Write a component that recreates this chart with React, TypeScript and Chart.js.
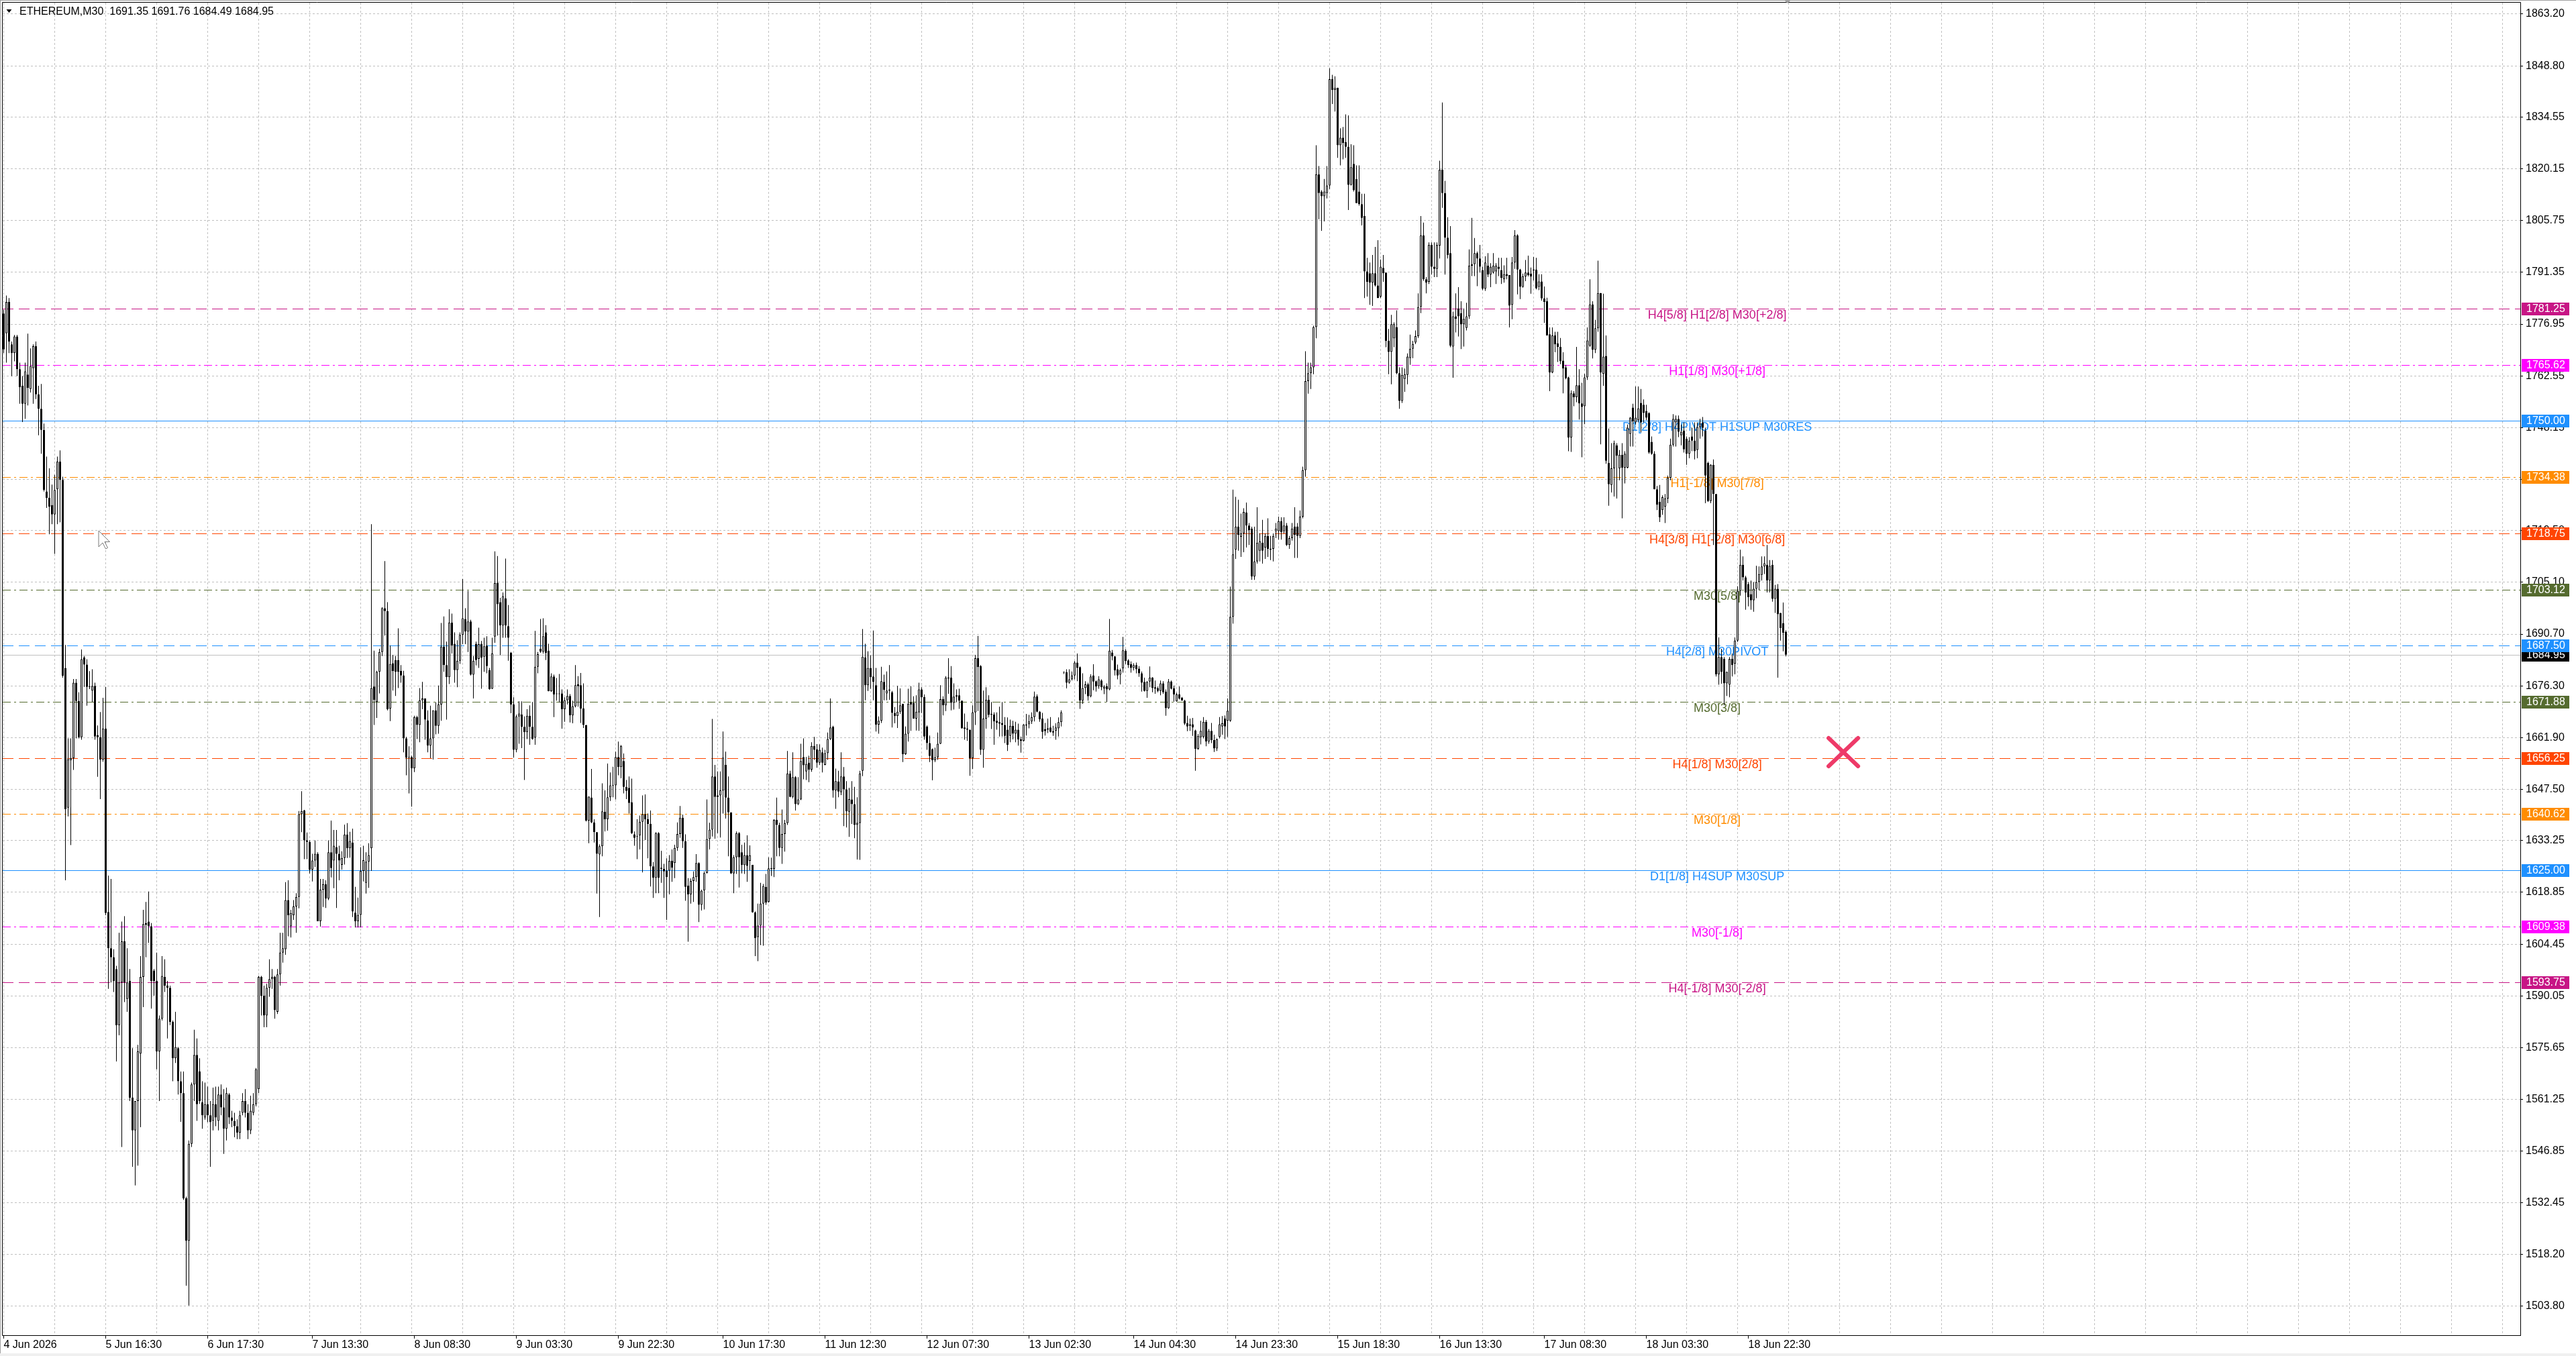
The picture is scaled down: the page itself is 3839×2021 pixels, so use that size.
import React, { useEffect, useRef } from "react";
import { Chart, registerables } from "chart.js";

Chart.register(...registerables);

const FONT = "'Liberation Sans', Arial, sans-serif";

const symbolTitle = "ETHEREUM,M30";
const headerQuote = [1691.35, 1691.76, 1684.49, 1684.95];

// M30 candles, oldest first
const opens = [
  1779.9,1774.4,1783.1,1771.3,1768.9,1773.5,1764.4,1759.8,1754.8,1762.9,
  1758.9,1764.7,1770.8,1757.4,1753.4,1747.5,1730.4,1728.6,1726.6,1724.0,
  1731.0,1738.7,1733.6,1681.3,1642.4,1655.6,1656.2,1677.2,1672.1,1662.0,
  1684.2,1682.2,1676.0,1675.0,1676.3,1662.6,1662.0,1655.8,1664.4,1613.4,
  1603.3,1600.8,1597.5,1581.9,1593.8,1605.2,1589.2,1594.2,1561.7,1552.6,
  1560.8,1574.0,1595.3,1610.3,1610.7,1609.4,1597.1,1594.2,1574.6,1583.7,
  1595.3,1592.9,1592.3,1582.8,1572.7,1575.5,1566.3,1563.0,1533.7,1521.9,
  1548.9,1565.4,1573.6,1569.0,1560.4,1556.2,1559.9,1556.8,1555.3,1559.9,
  1555.3,1562.6,1559.0,1553.1,1562.6,1556.2,1555.3,1553.8,1552.0,1557.5,
  1560.8,1557.5,1552.6,1557.5,1559.9,1564.1,1595.3,1590.1,1584.6,1592.3,
  1594.7,1595.3,1585.6,1596.0,1602.1,1603.0,1616.7,1609.4,1612.5,1614.9,
  1617.6,1640.6,1641.6,1633.3,1632.9,1625.2,1627.7,1629.6,1610.8,1619.6,
  1621.1,1617.1,1630.0,1627.7,1631.4,1629.6,1626.5,1628.4,1634.9,1631.1,
  1632.7,1613.2,1610.8,1612.6,1624.8,1621.5,1627.4,1631.1,1676.1,1671.8,
  1680.2,1685.7,1697.9,1697.1,1670.0,1682.6,1683.5,1683.5,1680.5,1679.2,
  1661.7,1656.5,1656.5,1653.4,1667.6,1665.4,1672.3,1672.8,1666.7,1659.7,
  1661.7,1669.5,1665.2,1671.1,1687.2,1682.1,1678.7,1693.9,1688.0,1680.7,
  1683.3,1690.5,1694.9,1691.4,1694.2,1679.4,1688.0,1683.8,1688.0,1684.4,
  1687.5,1680.7,1675.5,1690.0,1705.0,1699.6,1693.1,1700.6,1692.9,1685.5,
  1671.1,1658.5,1667.8,1668.3,1664.9,1663.4,1668.0,1664.9,1661.9,1681.6,
  1686.6,1685.8,1691.2,1686.1,1674.8,1678.9,1674.0,1674.0,1674.2,1669.8,
  1672.3,1673.5,1668.1,1670.6,1676.7,1676.5,1670.0,1665.4,1638.8,1645.2,
  1638.3,1635.6,1629.4,1631.7,1641.3,1639.2,1645.3,1648.5,1648.6,1656.5,
  1653.7,1655.4,1648.2,1647.9,1643.9,1635.0,1634.3,1634.7,1638.5,1640.6,
  1639.2,1637.9,1626.1,1622.9,1635.3,1625.7,1625.4,1624.9,1624.9,1627.6,
  1627.0,1631.2,1635.1,1639.6,1633.1,1620.7,1618.3,1622.0,1623.1,1627.0,
  1615.4,1619.4,1624.2,1633.7,1636.3,1651.1,1645.8,1645.8,1647.2,1654.3,
  1645.2,1641.1,1624.1,1628.6,1635.3,1630.0,1626.4,1629.2,1627.6,1626.5,
  1613.3,1606.4,1609.6,1615.7,1620.4,1616.2,1625.4,1625.4,1639.0,1637.6,
  1631.2,1635.1,1638.1,1651.9,1645.4,1650.9,1643.4,1644.7,1656.5,1652.5,
  1654.9,1653.0,1659.6,1658.6,1654.9,1657.8,1654.3,1657.6,1661.5,1664.9,
  1647.2,1649.7,1646.7,1651.1,1647.5,1641.3,1644.7,1643.4,1637.6,1638.1,
  1652.7,1684.2,1676.5,1681.3,1678.9,1676.5,1665.5,1666.6,1677.4,1674.2,
  1675.0,1674.5,1668.8,1667.9,1669.1,1671.3,1657.3,1663.0,1671.7,1671.6,
  1667.2,1668.9,1675.3,1673.2,1665.0,1660.4,1658.7,1655.6,1656.4,1660.2,
  1672.6,1670.9,1678.6,1678.6,1671.6,1673.3,1673.7,1672.2,1664.7,1664.4,
  1664.1,1656.2,1668.9,1684.0,1681.8,1658.5,1667.2,1672.4,1668.5,1668.3,
  1666.6,1666.2,1666.0,1665.4,1664.1,1662.4,1665.2,1663.0,1664.1,1661.4,
  1661.0,1665.5,1665.6,1666.4,1667.6,1673.4,1669.1,1667.2,1664.3,1664.1,
  1664.7,1663.7,1663.8,1664.5,1666.2,1680.0,1680.1,1677.2,1678.1,1679.2,
  1682.8,1681.5,1672.2,1675.7,1676.7,1673.4,1679.2,1677.6,1676.2,1677.8,
  1675.6,1676.2,1675.3,1685.6,1684.5,1680.9,1679.4,1681.2,1686.1,1683.4,
  1682.3,1681.3,1682.1,1681.1,1679.8,1677.4,1674.9,1677.5,1678.6,1675.9,
  1675.7,1674.9,1677.0,1674.7,1670.1,1677.5,1675.6,1672.0,1673.9,1673.0,
  1672.2,1666.0,1665.6,1665.6,1663.9,1658.8,1662.0,1662.1,1666.3,1660.8,
  1663.8,1661.2,1658.9,1662.1,1665.0,1667.2,1666.6,1666.6,1695.5,1714.2,
  1720.6,1717.8,1718.7,1724.5,1720.9,1720.0,1706.7,1710.9,1713.9,1716.1,
  1714.8,1718.0,1714.2,1714.4,1719.3,1719.3,1722.1,1719.3,1720.9,1715.5,
  1717.4,1720.6,1720.6,1718.0,1723.4,1736.3,1761.1,1763.3,1764.9,1776.1,
  1818.6,1813.8,1812.5,1813.4,1815.5,1845.1,1842.1,1842.7,1826.7,1828.8,
  1827.6,1826.3,1815.7,1821.5,1817.3,1813.8,1810.3,1807.0,1791.6,1791.1,
  1788.5,1791.1,1787.7,1784.6,1792.6,1791.3,1772.3,1769.2,1773.0,1776.1,
  1763.3,1755.6,1761.7,1762.8,1767.5,1770.1,1771.8,1773.6,1781.7,1801.6,
  1789.4,1788.7,1799.0,1792.9,1792.3,1798.8,1819.9,1813.4,1801.0,1796.7,
  1770.7,1779.1,1781.3,1780.0,1776.9,1775.9,1779.1,1793.2,1793.6,1796.7,
  1795.2,1792.0,1786.8,1793.2,1790.7,1791.3,1791.6,1792.9,1792.0,1789.4,
  1790.8,1790.6,1782.3,1794.1,1801.6,1792.1,1787.3,1790.2,1791.3,1791.0,
  1792.1,1792.1,1787.3,1788.8,1784.1,1783.3,1774.1,1763.5,1773.8,1771.6,
  1770.6,1766.8,1764.9,1762.1,1745.4,1757.7,1756.6,1759.9,1754.9,1754.1,
  1762.1,1771.0,1782.4,1769.8,1775.8,1785.6,1763.1,1768.1,1738.3,1732.2,
  1736.8,1743.2,1736.8,1740.6,1737.0,1737.0,1746.4,1753.7,1749.6,1750.2,
  1755.0,1754.5,1752.8,1752.2,1744.2,1740.9,1731.0,1727.5,1725.2,1726.2,
  1728.4,1734.2,1743.4,1749.6,1750.6,1746.0,1747.3,1745.1,1740.9,1745.7,
  1744.5,1741.9,1748.3,1749.6,1747.3,1738.3,1727.7,1737.8,1729.7,1679.5,
  1684.3,1683.8,1677.0,1676.6,1683.8,1682.5,1688.9,1702.7,1710.0,1706.5,
  1704.6,1701.8,1700.1,1703.3,1705.2,1707.2,1709.5,1710.0,1705.6,1710.0,
  1700.5,1703.3,1696.6,1693.7,1691.35,
];

const highs = [
  1780.9,1784.9,1784.2,1772.1,1773.9,1773.9,1766.2,1762.5,1766.2,1774.3,
  1770.2,1771.3,1772.1,1759.8,1760.3,1749.3,1740.1,1736.8,1732.3,1735.0,
  1740.1,1741.8,1734.5,1687.7,1661.7,1661.7,1678.2,1678.2,1674.5,1686.4,
  1684.6,1683.7,1680.4,1680.9,1677.2,1665.3,1669.0,1673.0,1676.0,1623.5,
  1622.6,1603.0,1598.4,1607.6,1610.7,1612.2,1603.3,1597.5,1575.5,1560.8,
  1576.4,1601.1,1614.0,1616.2,1619.1,1610.3,1597.5,1602.1,1584.6,1601.1,
  1600.2,1594.2,1592.9,1583.2,1585.6,1575.8,1569.0,1569.0,1534.2,1549.8,
  1565.9,1580.6,1578.2,1572.7,1566.3,1565.9,1564.8,1560.8,1564.5,1564.8,
  1564.8,1565.4,1564.1,1564.5,1563.0,1558.1,1557.5,1555.7,1558.1,1563.0,
  1564.1,1559.9,1562.3,1563.0,1570.0,1595.6,1595.6,1592.9,1593.4,1600.2,
  1597.5,1595.6,1597.5,1607.6,1607.6,1621.7,1622.2,1614.0,1616.7,1618.6,
  1641.5,1647.0,1641.8,1635.5,1633.3,1629.6,1633.3,1630.0,1622.6,1622.6,
  1622.2,1633.3,1638.8,1636.2,1636.2,1631.8,1630.3,1637.7,1638.1,1635.7,
  1636.6,1620.4,1617.4,1631.4,1631.8,1630.0,1632.5,1721.3,1686.1,1680.5,
  1686.6,1698.2,1711.0,1699.6,1687.5,1684.9,1684.6,1692.3,1682.1,1680.5,
  1662.1,1659.5,1656.9,1668.0,1668.0,1675.7,1677.4,1672.8,1669.5,1670.8,
  1669.5,1671.7,1676.4,1693.8,1695.6,1688.6,1697.6,1696.4,1691.2,1689.0,
  1691.2,1706.0,1697.9,1702.7,1694.7,1684.6,1688.6,1692.5,1688.8,1689.7,
  1690.1,1681.3,1689.7,1713.7,1712.4,1700.8,1702.3,1711.7,1698.8,1685.7,
  1673.1,1668.3,1672.0,1672.0,1667.8,1669.8,1670.9,1671.8,1691.6,1685.7,
  1694.9,1695.1,1693.2,1688.0,1679.8,1679.4,1678.5,1679.6,1675.3,1673.1,
  1675.3,1674.0,1672.2,1682.1,1679.0,1679.9,1677.0,1665.4,1645.5,1653.2,
  1639.2,1635.6,1632.2,1649.2,1647.2,1654.7,1652.2,1653.8,1658.0,1660.8,
  1659.8,1657.5,1650.1,1651.1,1650.5,1635.8,1639.2,1640.2,1645.8,1646.1,
  1640.8,1641.6,1627.3,1635.6,1635.6,1630.4,1626.8,1628.3,1629.2,1630.8,
  1632.1,1638.3,1642.9,1640.5,1635.0,1622.8,1622.7,1624.7,1629.5,1627.2,
  1619.6,1624.7,1644.7,1638.2,1667.1,1654.3,1652.5,1652.5,1663.6,1658.0,
  1651.1,1641.1,1629.2,1635.8,1635.6,1632.1,1632.7,1634.7,1631.9,1626.5,
  1613.5,1615.7,1621.5,1621.2,1624.0,1628.6,1628.5,1639.2,1645.2,1638.2,
  1641.9,1639.0,1658.2,1652.7,1657.8,1651.2,1650.9,1660.2,1661.7,1656.5,
  1656.9,1660.6,1662.1,1660.1,1660.0,1659.1,1658.5,1663.3,1672.8,1665.2,
  1653.3,1652.7,1657.8,1653.7,1649.8,1647.9,1649.8,1648.2,1645.3,1652.7,
  1692.1,1688.0,1685.9,1684.8,1691.7,1681.3,1667.8,1681.6,1679.4,1680.3,
  1682.1,1674.9,1670.4,1676.3,1675.6,1671.3,1665.0,1675.5,1676.2,1673.4,
  1673.7,1677.2,1675.9,1673.9,1665.3,1662.5,1658.9,1659.1,1663.3,1676.5,
  1673.4,1679.0,1684.0,1681.8,1677.0,1675.3,1675.5,1672.2,1668.6,1666.3,
  1664.1,1670.9,1684.9,1690.2,1682.1,1675.0,1675.9,1673.7,1671.8,1668.9,
  1668.9,1670.5,1671.8,1667.6,1667.5,1666.9,1666.6,1666.3,1665.8,1662.2,
  1665.6,1668.5,1668.2,1668.9,1674.7,1673.9,1669.3,1668.8,1666.0,1667.2,
  1667.6,1665.2,1665.9,1667.5,1669.5,1680.3,1680.9,1680.9,1680.3,1683.2,
  1685.3,1681.7,1679.8,1677.6,1677.2,1679.5,1682.3,1677.8,1679.0,1678.1,
  1676.5,1677.0,1694.9,1686.3,1684.6,1682.2,1681.1,1689.9,1686.5,1683.7,
  1683.1,1682.6,1682.8,1681.8,1680.3,1678.6,1677.6,1681.7,1678.7,1677.8,
  1676.1,1677.8,1677.6,1675.3,1678.2,1677.8,1676.4,1674.4,1676.1,1673.2,
  1672.4,1668.0,1667.2,1667.4,1664.1,1662.9,1666.6,1667.6,1666.8,1664.3,
  1666.0,1662.7,1661.7,1667.6,1667.9,1668.1,1672.8,1703.9,1730.9,1728.9,
  1728.1,1724.2,1725.7,1727.3,1721.6,1720.6,1720.6,1726.0,1718.7,1722.5,
  1718.7,1722.9,1718.0,1718.7,1721.6,1723.4,1723.2,1723.2,1721.6,1718.0,
  1721.6,1726.0,1721.6,1725.1,1737.3,1769.4,1766.2,1766.2,1776.5,1826.7,
  1820.9,1814.2,1817.3,1820.9,1848.1,1846.3,1845.9,1842.7,1831.4,1831.8,
  1835.3,1835.0,1827.0,1826.7,1821.1,1821.1,1813.2,1813.2,1795.4,1794.1,
  1796.2,1798.4,1800.3,1794.9,1796.2,1791.3,1775.6,1779.5,1777.4,1780.8,
  1764.9,1764.9,1764.6,1768.8,1774.0,1772.3,1775.2,1785.5,1807.0,1805.2,
  1790.0,1799.7,1799.7,1799.7,1799.7,1822.4,1838.6,1816.8,1806.7,1804.2,
  1780.4,1785.5,1787.2,1783.3,1781.3,1782.9,1797.7,1806.5,1800.9,1797.1,
  1799.0,1792.9,1795.8,1796.7,1793.9,1796.7,1793.9,1795.4,1795.4,1793.3,
  1795.4,1790.6,1795.6,1803.1,1801.9,1792.3,1791.0,1794.8,1796.0,1792.7,
  1795.6,1795.4,1790.8,1790.8,1787.4,1784.3,1776.0,1776.0,1774.8,1774.8,
  1773.1,1769.1,1765.6,1762.3,1758.5,1758.3,1770.6,1764.4,1760.6,1763.1,
  1776.0,1789.4,1783.3,1778.1,1794.6,1785.6,1785.4,1773.8,1747.9,1743.8,
  1744.5,1743.8,1741.9,1743.8,1741.6,1749.0,1751.1,1754.8,1759.6,1759.6,
  1758.9,1756.0,1754.5,1752.4,1745.7,1741.6,1731.9,1732.2,1729.3,1729.7,
  1734.8,1745.1,1751.9,1751.5,1751.5,1749.0,1749.6,1745.7,1745.5,1748.1,
  1749.6,1749.6,1750.6,1751.1,1748.1,1738.7,1738.0,1739.3,1729.7,1689.8,
  1686.6,1684.3,1680.2,1684.3,1685.3,1689.8,1704.0,1714.2,1712.3,1706.9,
  1705.2,1705.6,1705.2,1709.7,1709.5,1712.3,1712.3,1715.5,1711.3,1711.3,
  1704.4,1704.6,1696.6,1699.5,1691.76,
];

const lows = [
  1768.9,1766.2,1768.9,1762.5,1766.6,1762.5,1754.8,1749.7,1750.6,1754.3,
  1757.9,1754.8,1756.1,1746.0,1740.9,1730.4,1725.8,1718.5,1721.3,1713.0,
  1721.3,1721.8,1678.6,1622.2,1640.0,1632.0,1652.9,1661.7,1661.7,1661.3,
  1676.0,1670.8,1675.4,1671.8,1661.3,1651.0,1644.8,1655.2,1612.5,1592.0,
  1593.8,1591.1,1571.8,1579.1,1548.0,1588.3,1585.6,1560.8,1542.5,1537.3,
  1542.8,1553.5,1586.9,1600.8,1604.8,1586.5,1590.1,1569.6,1560.8,1583.2,
  1591.1,1578.2,1581.9,1566.3,1571.4,1562.6,1555.0,1533.3,1509.4,1503.9,
  1548.0,1560.8,1555.3,1560.0,1553.1,1555.6,1554.9,1542.5,1552.6,1553.8,
  1552.6,1556.8,1546.1,1549.8,1554.4,1553.5,1550.7,1550.2,1550.2,1556.8,
  1556.2,1550.2,1551.6,1556.8,1559.3,1563.0,1584.6,1581.3,1581.3,1589.8,
  1592.0,1583.7,1585.0,1592.9,1599.3,1601.5,1606.6,1606.3,1611.2,1607.6,
  1614.4,1635.6,1628.1,1628.1,1624.1,1621.9,1625.9,1610.8,1609.3,1614.8,
  1614.5,1616.7,1623.0,1620.0,1614.5,1622.2,1625.2,1626.6,1628.4,1628.5,
  1612.0,1609.1,1609.1,1609.1,1621.9,1618.5,1620.1,1624.8,1665.4,1667.4,
  1674.2,1684.6,1690.3,1669.5,1666.5,1675.0,1673.5,1675.7,1677.2,1657.8,
  1651.4,1646.4,1642.7,1652.3,1661.5,1660.6,1669.8,1661.3,1657.8,1656.2,
  1655.8,1662.8,1663.0,1666.6,1680.2,1666.9,1676.8,1685.3,1677.2,1675.9,
  1682.4,1687.9,1687.9,1685.7,1679.2,1672.8,1682.0,1681.3,1675.5,1680.2,
  1679.8,1675.2,1675.4,1688.3,1690.3,1684.9,1689.7,1689.7,1683.3,1668.7,
  1656.3,1657.8,1660.2,1659.0,1650.1,1661.5,1659.9,1661.3,1659.9,1679.8,
  1685.5,1685.3,1683.5,1674.8,1674.6,1667.6,1672.2,1671.7,1664.4,1666.3,
  1671.1,1666.1,1665.9,1670.3,1670.5,1666.0,1664.6,1638.6,1632.5,1638.1,
  1632.7,1618.5,1612.0,1628.9,1635.8,1636.0,1644.3,1645.3,1644.7,1651.4,
  1650.6,1646.4,1644.8,1640.8,1635.1,1631.8,1628.1,1630.8,1624.4,1633.4,
  1628.3,1620.5,1617.3,1618.6,1618.6,1621.5,1617.3,1611.2,1618.3,1621.8,
  1622.8,1630.4,1634.0,1631.2,1616.5,1605.1,1615.7,1616.2,1621.8,1610.6,
  1613.8,1614.1,1624.1,1630.8,1634.4,1633.8,1635.3,1634.1,1640.8,1639.4,
  1628.9,1624.0,1618.6,1624.0,1620.2,1624.1,1624.0,1621.8,1625.0,1613.2,
  1601.1,1599.7,1604.2,1604.0,1615.4,1616.0,1623.4,1623.1,1628.9,1628.9,
  1626.8,1630.2,1637.6,1645.3,1645.0,1641.6,1643.1,1644.5,1650.3,1650.1,
  1649.5,1652.4,1655.7,1653.5,1654.3,1652.2,1654.2,1655.7,1661.2,1645.2,
  1642.1,1645.3,1645.9,1637.3,1636.9,1634.3,1637.9,1633.9,1628.0,1627.9,
  1651.2,1672.3,1674.9,1675.5,1672.3,1663.6,1663.0,1666.0,1672.3,1672.3,
  1672.4,1664.7,1665.9,1664.6,1668.5,1655.1,1657.1,1660.8,1663.8,1667.2,
  1663.9,1663.8,1668.8,1661.3,1658.5,1655.1,1650.0,1655.1,1655.7,1660.1,
  1668.1,1669.3,1674.1,1669.5,1669.7,1671.7,1669.9,1664.4,1661.3,1661.0,
  1651.3,1653.2,1665.4,1669.3,1657.1,1653.5,1664.4,1667.5,1664.3,1659.9,
  1664.1,1662.2,1662.2,1660.4,1658.2,1660.6,1661.4,1660.6,1659.7,1657.7,
  1660.8,1662.5,1664.5,1665.7,1666.4,1668.9,1666.3,1661.6,1662.5,1663.2,
  1663.3,1662.4,1661.3,1662.2,1665.0,1679.6,1675.6,1676.9,1677.8,1678.1,
  1677.6,1669.9,1671.3,1674.0,1672.2,1673.1,1675.1,1674.7,1675.5,1675.1,
  1674.0,1671.8,1675.1,1683.4,1679.2,1678.1,1676.7,1680.0,1682.3,1681.3,
  1680.0,1680.6,1679.8,1678.8,1674.7,1674.7,1673.0,1675.9,1674.5,1674.1,
  1674.5,1673.7,1674.1,1668.0,1669.9,1675.3,1671.9,1671.9,1672.5,1672.2,
  1665.4,1663.7,1663.8,1662.4,1652.7,1658.5,1660.0,1661.7,1659.5,1660.2,
  1660.4,1657.9,1658.2,1661.7,1662.7,1661.5,1662.1,1666.3,1693.6,1711.6,
  1713.9,1712.2,1713.5,1714.8,1715.5,1705.8,1705.8,1710.3,1710.9,1710.3,
  1711.6,1712.2,1711.3,1710.9,1717.4,1717.0,1717.0,1718.7,1715.2,1714.4,
  1716.7,1711.9,1711.9,1717.4,1722.9,1734.5,1757.6,1758.9,1763.0,1773.0,
  1806.1,1802.9,1805.5,1811.9,1814.5,1838.2,1836.1,1823.2,1821.1,1822.8,
  1823.2,1808.7,1815.5,1813.8,1810.6,1809.9,1804.4,1784.2,1784.6,1782.3,
  1782.0,1787.4,1784.2,1784.2,1788.7,1770.5,1763.0,1760.2,1770.5,1763.0,
  1753.4,1755.0,1758.1,1760.2,1765.6,1767.5,1771.4,1773.1,1780.0,1789.0,
  1785.5,1788.1,1790.7,1790.0,1790.0,1795.2,1809.3,1790.7,1795.2,1770.5,
  1762.0,1774.6,1773.5,1770.0,1770.7,1775.2,1778.4,1790.3,1790.3,1787.5,
  1791.3,1786.4,1786.2,1790.0,1787.2,1791.0,1788.1,1790.3,1788.1,1788.5,
  1789.4,1776.0,1778.3,1792.3,1785.2,1783.9,1787.1,1788.9,1790.2,1785.4,
  1789.1,1786.6,1786.4,1783.5,1777.3,1773.8,1758.3,1763.3,1769.1,1766.4,
  1765.8,1757.7,1761.6,1741.6,1741.4,1754.1,1755.2,1750.4,1739.9,1749.1,
  1761.4,1770.6,1767.4,1768.9,1774.8,1743.5,1759.8,1738.1,1726.4,1730.1,
  1729.0,1728.4,1733.5,1722.9,1732.6,1736.8,1742.9,1742.9,1749.0,1749.6,
  1746.8,1749.6,1750.2,1740.9,1740.6,1731.0,1725.2,1721.9,1723.9,1721.6,
  1727.1,1733.5,1742.9,1742.9,1745.5,1743.2,1741.2,1737.8,1739.6,1741.6,
  1739.3,1739.6,1745.1,1745.7,1727.1,1727.5,1727.1,1715.5,1678.9,1676.6,
  1676.9,1670.9,1673.5,1673.1,1678.9,1679.5,1688.5,1701.4,1705.6,1697.5,
  1698.4,1697.5,1696.9,1700.7,1703.0,1705.6,1707.4,1702.3,1702.3,1699.7,
  1696.6,1678.6,1688.9,1685.9,1684.49,
];

const closes = [
  1769.9,1783.1,1772.1,1768.9,1773.5,1764.4,1759.4,1754.8,1763.8,1759.2,
  1765.3,1770.8,1757.4,1753.4,1747.5,1730.8,1728.6,1726.2,1724.0,1730.8,
  1738.7,1733.6,1679.1,1642.0,1655.8,1656.2,1677.2,1672.1,1662.0,1683.7,
  1682.2,1676.0,1676.2,1676.3,1662.2,1662.0,1655.8,1664.4,1613.1,1603.3,
  1600.8,1594.2,1581.9,1593.8,1605.2,1593.8,1593.8,1561.7,1552.6,1560.8,
  1574.6,1595.3,1610.0,1609.8,1609.4,1594.2,1594.2,1574.6,1583.7,1595.6,
  1592.9,1592.3,1582.8,1572.7,1575.8,1566.3,1563.0,1533.7,1521.9,1548.9,
  1565.4,1573.6,1559.9,1560.8,1556.8,1559.9,1556.8,1554.9,1559.9,1556.2,
  1562.6,1559.0,1553.1,1563.0,1556.2,1555.3,1553.8,1552.0,1556.8,1560.8,
  1557.5,1552.6,1558.1,1559.9,1569.6,1595.3,1590.1,1584.6,1592.3,1594.7,
  1595.3,1586.1,1596.0,1602.1,1603.3,1616.7,1612.5,1613.1,1614.9,1617.6,
  1640.6,1641.5,1633.3,1632.9,1625.2,1627.7,1629.6,1610.8,1619.6,1621.1,
  1617.1,1630.0,1625.6,1631.8,1629.6,1627.7,1628.4,1634.9,1631.1,1633.1,
  1613.5,1610.8,1612.6,1624.8,1627.8,1627.4,1629.2,1675.7,1672.4,1680.2,
  1685.7,1697.9,1697.1,1669.8,1682.4,1680.4,1680.2,1680.2,1679.2,1661.7,
  1656.3,1656.3,1653.4,1667.6,1665.4,1672.3,1672.8,1666.9,1659.7,1661.7,
  1669.5,1665.2,1671.1,1687.2,1682.1,1678.7,1693.9,1687.5,1680.7,1683.3,
  1690.5,1695.1,1691.4,1694.2,1679.4,1683.3,1683.5,1687.9,1684.2,1687.3,
  1681.8,1675.4,1685.3,1704.9,1699.0,1693.1,1701.2,1693.1,1689.7,1671.1,
  1658.5,1667.8,1668.6,1664.9,1663.4,1668.0,1664.9,1661.5,1681.6,1685.1,
  1685.8,1690.1,1685.5,1674.8,1678.9,1673.9,1674.1,1674.2,1669.8,1672.3,
  1673.5,1668.1,1670.6,1676.5,1676.2,1670.0,1665.4,1638.8,1645.5,1638.3,
  1635.6,1629.6,1631.7,1641.4,1639.2,1645.3,1648.6,1648.6,1656.5,1653.7,
  1659.6,1648.2,1647.1,1643.7,1635.3,1634.0,1634.5,1638.5,1640.6,1639.2,
  1637.9,1626.1,1622.9,1635.3,1622.9,1625.4,1624.7,1623.1,1627.6,1625.7,
  1631.2,1635.1,1639.6,1633.1,1620.4,1618.3,1622.0,1623.1,1627.0,1615.4,
  1619.3,1624.2,1633.7,1636.3,1651.1,1645.4,1645.4,1647.2,1656.3,1645.2,
  1641.1,1624.1,1628.6,1635.3,1628.6,1626.5,1629.2,1626.2,1629.1,1613.3,
  1606.1,1609.6,1615.7,1620.6,1616.0,1625.5,1625.5,1639.0,1637.6,1631.2,
  1635.1,1638.1,1651.9,1645.4,1650.9,1643.4,1644.7,1655.4,1654.2,1654.6,
  1653.0,1659.6,1658.5,1654.9,1658.5,1654.9,1657.6,1661.5,1664.7,1647.2,
  1649.8,1646.9,1651.1,1647.5,1641.4,1644.8,1643.4,1637.6,1638.2,1651.9,
  1684.4,1676.5,1681.3,1678.7,1677.4,1665.5,1666.6,1677.6,1675.2,1675.0,
  1675.2,1668.8,1667.9,1669.1,1670.9,1657.3,1663.0,1671.3,1671.1,1667.2,
  1669.1,1675.3,1673.1,1662.2,1660.4,1656.8,1655.6,1656.4,1660.2,1672.6,
  1670.9,1678.6,1678.4,1671.6,1673.3,1673.7,1672.2,1664.5,1664.3,1664.1,
  1656.2,1668.9,1684.0,1681.5,1658.5,1667.2,1672.4,1668.2,1668.3,1666.4,
  1666.0,1665.8,1665.4,1662.4,1659.9,1665.2,1663.0,1664.1,1661.4,1661.0,
  1665.5,1665.3,1666.4,1667.6,1673.3,1669.1,1667.0,1663.5,1663.7,1664.5,
  1663.5,1663.3,1664.7,1666.2,1668.9,1680.0,1677.2,1678.1,1679.2,1682.8,
  1681.3,1672.2,1675.7,1676.7,1673.4,1678.9,1677.5,1676.1,1678.1,1675.9,
  1676.1,1675.3,1686.1,1684.5,1680.6,1679.2,1680.7,1686.2,1683.2,1682.1,
  1681.3,1682.1,1680.9,1679.8,1677.2,1674.9,1677.4,1678.6,1675.7,1675.5,
  1674.9,1677.0,1674.5,1670.1,1677.5,1675.5,1673.9,1673.9,1672.8,1672.2,
  1665.8,1665.0,1665.2,1664.7,1658.8,1662.4,1663.8,1666.3,1660.8,1663.8,
  1661.2,1658.9,1661.4,1665.6,1665.9,1665.0,1669.4,1695.5,1712.9,1720.6,
  1718.3,1718.7,1724.7,1720.9,1719.6,1706.7,1710.9,1716.1,1716.5,1713.9,
  1718.0,1714.4,1714.4,1718.0,1720.0,1722.1,1719.1,1720.9,1715.5,1717.4,
  1720.0,1718.3,1718.0,1723.4,1736.3,1761.1,1763.3,1764.9,1776.1,1818.6,
  1813.4,1812.5,1813.8,1815.5,1845.1,1842.1,1842.7,1826.7,1828.8,1827.3,
  1826.3,1815.7,1820.6,1814.2,1810.6,1810.3,1806.5,1791.6,1788.7,1788.5,
  1791.1,1787.7,1784.2,1792.9,1791.1,1772.3,1769.2,1776.9,1776.9,1763.3,
  1755.6,1762.8,1763.0,1767.9,1770.1,1771.4,1773.6,1781.7,1801.6,1789.4,
  1788.5,1799.0,1792.9,1792.3,1799.0,1819.9,1813.4,1801.0,1796.2,1771.0,
  1779.1,1778.4,1779.1,1776.9,1778.4,1779.1,1793.2,1793.6,1796.7,1795.2,
  1792.9,1786.8,1794.1,1790.7,1792.9,1793.2,1793.2,1792.3,1789.8,1790.8,
  1790.4,1782.1,1794.1,1801.6,1792.1,1787.3,1790.2,1791.3,1790.6,1790.2,
  1791.9,1786.9,1788.8,1784.1,1783.1,1773.8,1763.5,1773.8,1771.3,1770.6,
  1766.6,1764.6,1761.9,1745.4,1757.7,1756.6,1759.9,1754.9,1753.9,1762.1,
  1772.4,1782.4,1769.8,1775.8,1785.6,1763.5,1767.9,1738.9,1732.4,1736.8,
  1743.8,1740.3,1740.6,1737.0,1740.9,1748.1,1750.9,1749.9,1750.9,1753.5,
  1749.6,1752.2,1750.9,1741.2,1740.9,1731.0,1726.7,1723.2,1728.8,1728.4,
  1734.2,1743.4,1750.6,1750.6,1747.0,1747.0,1742.1,1740.9,1744.5,1744.5,
  1741.6,1748.3,1749.3,1748.1,1734.8,1727.7,1737.8,1729.7,1679.5,1684.3,
  1680.2,1677.0,1680.2,1683.8,1682.1,1688.9,1702.7,1710.0,1706.5,1702.3,
  1701.0,1700.1,1703.3,1705.2,1707.4,1709.5,1710.4,1705.6,1709.7,1700.5,
  1703.3,1696.2,1692.4,1691.1,1684.95,
];

// right price axis
const priceTicks = [
  1863.2, 1848.8, 1834.55, 1820.15, 1805.75, 1791.35, 1776.95, 1762.55, 1748.15,
  1733.75, 1719.5, 1705.1, 1690.7, 1676.3, 1661.9, 1647.5, 1633.25, 1618.85,
  1604.45, 1590.05, 1575.65, 1561.25, 1546.85, 1532.45, 1518.2, 1503.8,
];

// time axis labels and the bar each one sits on
const timeLabels = [
  "4 Jun 2026", "5 Jun 16:30", "6 Jun 17:30", "7 Jun 13:30", "8 Jun 08:30",
  "9 Jun 03:30", "9 Jun 22:30", "10 Jun 17:30", "11 Jun 12:30", "12 Jun 07:30",
  "13 Jun 02:30", "14 Jun 04:30", "14 Jun 23:30", "15 Jun 18:30", "16 Jun 13:30",
  "17 Jun 08:30", "18 Jun 03:30", "18 Jun 22:30",
];
const timeLabelBars = [0, 38, 76, 115, 153, 191, 229, 268, 306, 344, 382, 421, 459, 497, 535, 574, 612, 650];

// Murrey-math style levels
const levelPrices = [1781.25, 1765.62, 1750.0, 1734.38, 1718.75, 1703.12, 1687.5, 1671.88, 1656.25, 1640.62, 1625.0, 1609.38, 1593.75];
const levelNames = [
  "H4[5/8] H1[2/8] M30[+2/8]",
  "H1[1/8] M30[+1/8]",
  "D1[2/8] H4PIVOT H1SUP M30RES",
  "H1[-1/8] M30[7/8]",
  "H4[3/8] H1[-2/8] M30[6/8]",
  "M30[5/8]",
  "H4[2/8] M30PIVOT",
  "M30[3/8]",
  "H4[1/8] M30[2/8]",
  "M30[1/8]",
  "D1[1/8] H4SUP M30SUP",
  "M30[-1/8]",
  "H4[-1/8] M30[-2/8]",
];
const levelColors = ["#C71585", "#FF00FF", "#1E90FF", "#FF8C00", "#FF4500", "#556B2F", "#1E90FF", "#556B2F", "#FF4500", "#FF8C00", "#1E90FF", "#FF00FF", "#C71585"];
const levelStyles = ["dash", "dashdot", "solid", "dashdot", "dash", "dashdot", "dash", "dashdot", "dash", "dashdot", "solid", "dashdot", "dash"];
const levelLabelBar = 638.4;

const lastPrice = 1684.95;
const crossBar = 685.4;
const crossPrice = 1657.86;

const W = 3839;
const H = 2021;

function drawOverlay(chart: any) {
  const { ctx, chartArea: a, scales } = chart;
  const x = scales.x;
  const y = scales.y;
  ctx.save();

  // window edge lines
  ctx.fillStyle = "#A0A0A0";
  ctx.fillRect(0, 0, W, 1);
  ctx.fillRect(0, 0, 1, H);
  ctx.fillStyle = "#F0F0F0";
  ctx.fillRect(0, H - 4, W, 4);

  // frame
  ctx.strokeStyle = "#000";
  ctx.lineWidth = 1;
  ctx.setLineDash([]);
  ctx.beginPath();
  ctx.moveTo(a.left - 0.5, a.bottom + 0.5);
  ctx.lineTo(a.left - 0.5, a.top - 0.5);
  ctx.lineTo(a.right + 0.5, a.top - 0.5);
  ctx.lineTo(a.right + 0.5, a.bottom + 0.5);
  ctx.lineTo(a.left - 0.5, a.bottom + 0.5);
  ctx.stroke();

  // chart shift marker
  const sx = Math.round(x.getPixelForValue(opens.length - 1)) + 2;
  ctx.fillStyle = "#A0A0A0";
  ctx.beginPath();
  ctx.moveTo(sx - 5, 0);
  ctx.lineTo(sx + 5, 0);
  ctx.lineTo(sx, 5);
  ctx.closePath();
  ctx.fill();

  // price tags
  ctx.font = `16px ${FONT}`;
  ctx.textAlign = "left";
  ctx.textBaseline = "middle";
  const tag = (price: number, bg: string) => {
    const yc = Math.round(y.getPixelForValue(price));
    ctx.fillStyle = bg;
    ctx.fillRect(a.right + 2, yc - 9, 71, 19);
    ctx.fillStyle = "#FFFFFF";
    ctx.fillText(price.toFixed(2), a.right + 9, yc + 1);
  };
  tag(lastPrice, "#000000");
  levelPrices.forEach((p, i) => tag(p, levelColors[i]));

  // header
  ctx.fillStyle = "#000";
  ctx.beginPath();
  ctx.moveTo(9.5, 14);
  ctx.lineTo(17.5, 14);
  ctx.lineTo(13.5, 19);
  ctx.closePath();
  ctx.fill();
  ctx.font = `16px ${FONT}`;
  ctx.textBaseline = "middle";
  ctx.fillText(`${symbolTitle}  ${headerQuote.map((v) => v.toFixed(2)).join(" ")}`, 29, 17.5);

  // red cross object
  const cx = x.getPixelForValue(crossBar);
  const cy = y.getPixelForValue(crossPrice);
  ctx.strokeStyle = "#EE3A68";
  ctx.lineWidth = 6;
  ctx.lineCap = "round";
  ctx.beginPath();
  ctx.moveTo(cx - 22, cy - 21);
  ctx.lineTo(cx + 22, cy + 21);
  ctx.moveTo(cx - 22, cy + 21);
  ctx.lineTo(cx + 22, cy - 21);
  ctx.stroke();

  // mouse cursor
  const px = 147, py = 791, s = 1.5;
  const pts = [[0, 0], [0, 16], [4, 12], [7, 18], [9, 17], [6, 11], [11, 11]];
  ctx.lineCap = "butt";
  ctx.lineWidth = 1;
  ctx.beginPath();
  pts.forEach(([qx, qy], i) => {
    const X = px + qx * s, Y = py + qy * s;
    if (i === 0) ctx.moveTo(X, Y);
    else ctx.lineTo(X, Y);
  });
  ctx.closePath();
  ctx.fillStyle = "#FFFFFF";
  ctx.fill();
  ctx.strokeStyle = "#7A7A7A";
  ctx.stroke();

  ctx.restore();
}

function drawLevels(chart: any) {
  const { ctx, chartArea: a, scales } = chart;
  const x = scales.x;
  const y = scales.y;
  ctx.save();
  ctx.beginPath();
  ctx.rect(a.left, a.top, a.right - a.left, a.bottom - a.top);
  ctx.clip();
  ctx.lineWidth = 1;

  const yl = Math.round(y.getPixelForValue(lastPrice)) + 0.5;
  ctx.strokeStyle = "#C0C0C0";
  ctx.setLineDash([]);
  ctx.beginPath();
  ctx.moveTo(a.left, yl);
  ctx.lineTo(a.right, yl);
  ctx.stroke();

  const lx = x.getPixelForValue(levelLabelBar);
  levelPrices.forEach((p, i) => {
    const yp = Math.round(y.getPixelForValue(p)) + 0.5;
    const st = levelStyles[i];
    ctx.setLineDash(st === "dash" ? [16, 8] : st === "dashdot" ? [12, 5, 3, 5] : []);
    ctx.strokeStyle = levelColors[i];
    ctx.beginPath();
    ctx.moveTo(a.left, yp);
    ctx.lineTo(a.right, yp);
    ctx.stroke();
    ctx.font = `18px ${FONT}`;
    ctx.textAlign = "center";
    ctx.textBaseline = "alphabetic";
    ctx.fillStyle = levelColors[i];
    ctx.fillText(levelNames[i], lx, yp + 14);
  });
  ctx.restore();
}

export default function App() {
  const ref = useRef<HTMLCanvasElement | null>(null);

  useEffect(() => {
    const n = opens.length;
    if (highs.length !== n || lows.length !== n || closes.length !== n) {
      throw new Error(`length mismatch o${n} h${highs.length} l${lows.length} c${closes.length}`);
    }
    document.body.style.margin = "0";
    const canvas = ref.current;
    if (!canvas) return;

    const wickData = opens.map((o, i) => ({
      x: i,
      y: [Math.min(lows[i], o, closes[i]), Math.max(highs[i], o, closes[i])],
    }));
    const bodyData = opens.map((o, i) => ({ x: i, y: [o, closes[i]] }));
    const bodyFill = opens.map((o, i) => (closes[i] >= o ? "#FFFFFF" : "#000000"));
    const gridBars = Array.from({ length: 50 }, (_, k) => k * 19);
    const xTickValues = Array.from(new Set([...gridBars, ...timeLabelBars])).sort((p, q) => p - q);

    const chart = new Chart(canvas, {
      type: "bar",
      data: {
        datasets: [
          {
            label: "wick",
            data: wickData as any,
            backgroundColor: "#000000",
            borderWidth: 0,
            barThickness: 1,
            grouped: false,
            order: 2,
            inflateAmount: 0,
          } as any,
          {
            label: "body",
            data: bodyData as any,
            backgroundColor: bodyFill,
            borderColor: "#000000",
            borderWidth: 1,
            borderSkipped: false,
            barThickness: 3,
            minBarLength: 1,
            grouped: false,
            order: 1,
            inflateAmount: 0,
          } as any,
        ],
      },
      options: {
        animation: false,
        responsive: false,
        devicePixelRatio: 1,
        events: [],
        layout: { padding: { left: 4, top: 4, right: 0, bottom: 0 } },
        plugins: { legend: { display: false }, tooltip: { enabled: false } },
        scales: {
          x: {
            type: "linear",
            min: -0.375,
            max: 937.625,
            offset: false,
            bounds: "data",
            afterBuildTicks: (scale: any) => {
              scale.ticks = xTickValues.map((v) => ({ value: v }));
            },
            afterFit: (scale: any) => {
              scale.height = 31;
              scale.paddingLeft = 0;
              scale.paddingRight = 0;
            },
            ticks: {
              autoSkip: false,
              maxRotation: 0,
              minRotation: 0,
              align: "start",
              padding: 0,
              color: "#000000",
              font: { family: FONT, size: 16 },
              callback: (v: any) => {
                const k = timeLabelBars.indexOf(Number(v));
                return k >= 0 ? timeLabels[k] : "";
              },
            },
            grid: {
              color: (c: any) =>
                c.tick && gridBars.indexOf(c.tick.value) >= 0 ? "#C0C0C0" : "rgba(0,0,0,0)",
              lineWidth: 1,
              offset: false,
              drawTicks: true,
              tickLength: 5,
              tickColor: (c: any) =>
                c.tick && timeLabelBars.indexOf(c.tick.value) >= 0 ? "#000000" : "rgba(0,0,0,0)",
            },
            border: { display: true, color: "#000000", width: 1, dash: [3, 3] },
          } as any,
          y: {
            type: "linear",
            position: "right",
            min: 1495.64,
            max: 1866.37,
            bounds: "data",
            afterBuildTicks: (scale: any) => {
              scale.ticks = priceTicks.map((v) => ({ value: v }));
            },
            afterFit: (scale: any) => {
              scale.width = 83;
              scale.paddingTop = 0;
              scale.paddingBottom = 0;
            },
            ticks: {
              autoSkip: false,
              padding: 4,
              color: "#000000",
              font: { family: FONT, size: 16 },
              callback: (v: any) => Number(v).toFixed(2),
            },
            grid: {
              color: "#C0C0C0",
              lineWidth: 1,
              drawTicks: true,
              tickLength: 4,
              tickColor: "#000000",
            },
            border: { display: true, color: "#000000", width: 1, dash: [3, 3] },
          } as any,
        },
      } as any,
      plugins: [
        {
          id: "bg",
          beforeDraw: (c: any) => {
            const g = c.ctx;
            g.save();
            g.fillStyle = "#FFFFFF";
            g.fillRect(0, 0, W, H);
            g.restore();
          },
        },
        { id: "levels", beforeDatasetsDraw: (c: any) => drawLevels(c) },
        { id: "overlay", afterDraw: (c: any) => drawOverlay(c) },
      ],
    });

    return () => chart.destroy();
  }, []);

  return (
    <canvas
      ref={ref}
      width={W}
      height={H}
      style={{ position: "fixed", left: 0, top: 0, width: W, height: H, display: "block" }}
    />
  );
}
